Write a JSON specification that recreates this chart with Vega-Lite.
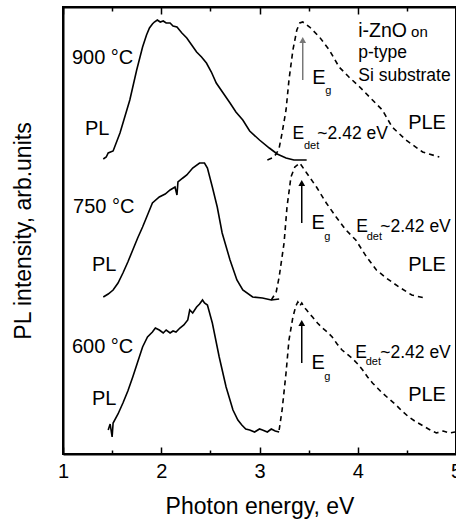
{
  "$schema": "https://vega.github.io/schema/vega-lite/v6.json",
  "width": 393,
  "height": 447,
  "autosize": {"type": "none"},
  "padding": {"left": 63, "top": 7, "right": 0, "bottom": 76},
  "background": "white",
  "config": {
    "font": "Liberation Sans",
    "view": {"stroke": "black", "strokeWidth": 2},
    "axis": {"grid": false, "domainColor": "black", "tickColor": "black", "labelColor": "black", "titleColor": "black", "titleFontWeight": "normal", "labelFont": "Liberation Sans", "titleFont": "Liberation Sans"},
    "axisLeft": {"ticks": false, "labels": false, "domain": true, "domainWidth": 2, "titleFontSize": 23, "titlePadding": 28},
    "text": {"font": "Liberation Sans", "color": "black", "align": "left", "baseline": "middle"}
  },
  "datasets": {
    "curves": [
      {"sample": "900", "type": "PL", "e": 1.41, "i": 295},
      {"sample": "900", "type": "PL", "e": 1.44, "i": 297},
      {"sample": "900", "type": "PL", "e": 1.46, "i": 301},
      {"sample": "900", "type": "PL", "e": 1.51, "i": 303},
      {"sample": "900", "type": "PL", "e": 1.58, "i": 321},
      {"sample": "900", "type": "PL", "e": 1.68, "i": 354},
      {"sample": "900", "type": "PL", "e": 1.75, "i": 384},
      {"sample": "900", "type": "PL", "e": 1.81, "i": 407},
      {"sample": "900", "type": "PL", "e": 1.85, "i": 419},
      {"sample": "900", "type": "PL", "e": 1.88, "i": 426},
      {"sample": "900", "type": "PL", "e": 1.91, "i": 430},
      {"sample": "900", "type": "PL", "e": 1.93, "i": 432},
      {"sample": "900", "type": "PL", "e": 1.96, "i": 434},
      {"sample": "900", "type": "PL", "e": 1.99, "i": 432},
      {"sample": "900", "type": "PL", "e": 2.02, "i": 433},
      {"sample": "900", "type": "PL", "e": 2.05, "i": 431},
      {"sample": "900", "type": "PL", "e": 2.09, "i": 431},
      {"sample": "900", "type": "PL", "e": 2.12, "i": 428},
      {"sample": "900", "type": "PL", "e": 2.16, "i": 427},
      {"sample": "900", "type": "PL", "e": 2.21, "i": 421},
      {"sample": "900", "type": "PL", "e": 2.26, "i": 416},
      {"sample": "900", "type": "PL", "e": 2.31, "i": 409},
      {"sample": "900", "type": "PL", "e": 2.36, "i": 402},
      {"sample": "900", "type": "PL", "e": 2.41, "i": 397},
      {"sample": "900", "type": "PL", "e": 2.46, "i": 391},
      {"sample": "900", "type": "PL", "e": 2.51, "i": 382},
      {"sample": "900", "type": "PL", "e": 2.56, "i": 371},
      {"sample": "900", "type": "PL", "e": 2.63, "i": 361},
      {"sample": "900", "type": "PL", "e": 2.70, "i": 351},
      {"sample": "900", "type": "PL", "e": 2.76, "i": 342},
      {"sample": "900", "type": "PL", "e": 2.83, "i": 334},
      {"sample": "900", "type": "PL", "e": 2.90, "i": 323},
      {"sample": "900", "type": "PL", "e": 3.00, "i": 314},
      {"sample": "900", "type": "PL", "e": 3.10, "i": 306},
      {"sample": "900", "type": "PL", "e": 3.18, "i": 300},
      {"sample": "900", "type": "PL", "e": 3.27, "i": 296},
      {"sample": "900", "type": "PL", "e": 3.35, "i": 294},
      {"sample": "900", "type": "PL", "e": 3.48, "i": 294},
      {"sample": "900", "type": "PLE", "e": 3.08, "i": 294},
      {"sample": "900", "type": "PLE", "e": 3.13, "i": 296},
      {"sample": "900", "type": "PLE", "e": 3.17, "i": 300},
      {"sample": "900", "type": "PLE", "e": 3.20, "i": 306},
      {"sample": "900", "type": "PLE", "e": 3.23, "i": 321},
      {"sample": "900", "type": "PLE", "e": 3.27, "i": 344},
      {"sample": "900", "type": "PLE", "e": 3.30, "i": 374},
      {"sample": "900", "type": "PLE", "e": 3.34, "i": 404},
      {"sample": "900", "type": "PLE", "e": 3.38, "i": 424},
      {"sample": "900", "type": "PLE", "e": 3.41, "i": 431},
      {"sample": "900", "type": "PLE", "e": 3.44, "i": 432},
      {"sample": "900", "type": "PLE", "e": 3.51, "i": 427},
      {"sample": "900", "type": "PLE", "e": 3.61, "i": 417},
      {"sample": "900", "type": "PLE", "e": 3.71, "i": 404},
      {"sample": "900", "type": "PLE", "e": 3.81, "i": 387},
      {"sample": "900", "type": "PLE", "e": 3.91, "i": 377},
      {"sample": "900", "type": "PLE", "e": 4.02, "i": 367},
      {"sample": "900", "type": "PLE", "e": 4.15, "i": 354},
      {"sample": "900", "type": "PLE", "e": 4.25, "i": 344},
      {"sample": "900", "type": "PLE", "e": 4.35, "i": 327},
      {"sample": "900", "type": "PLE", "e": 4.49, "i": 314},
      {"sample": "900", "type": "PLE", "e": 4.66, "i": 302},
      {"sample": "900", "type": "PLE", "e": 4.83, "i": 297},
      {"sample": "750", "type": "PL", "e": 1.41, "i": 157},
      {"sample": "750", "type": "PL", "e": 1.46, "i": 160},
      {"sample": "750", "type": "PL", "e": 1.51, "i": 164},
      {"sample": "750", "type": "PL", "e": 1.56, "i": 171},
      {"sample": "750", "type": "PL", "e": 1.61, "i": 181},
      {"sample": "750", "type": "PL", "e": 1.66, "i": 192},
      {"sample": "750", "type": "PL", "e": 1.71, "i": 204},
      {"sample": "750", "type": "PL", "e": 1.76, "i": 216},
      {"sample": "750", "type": "PL", "e": 1.81, "i": 227},
      {"sample": "750", "type": "PL", "e": 1.86, "i": 239},
      {"sample": "750", "type": "PL", "e": 1.91, "i": 251},
      {"sample": "750", "type": "PL", "e": 1.98, "i": 257},
      {"sample": "750", "type": "PL", "e": 2.04, "i": 260},
      {"sample": "750", "type": "PL", "e": 2.09, "i": 264},
      {"sample": "750", "type": "PL", "e": 2.14, "i": 267},
      {"sample": "750", "type": "PL", "e": 2.16, "i": 259},
      {"sample": "750", "type": "PL", "e": 2.17, "i": 272},
      {"sample": "750", "type": "PL", "e": 2.22, "i": 276},
      {"sample": "750", "type": "PL", "e": 2.26, "i": 279},
      {"sample": "750", "type": "PL", "e": 2.32, "i": 286},
      {"sample": "750", "type": "PL", "e": 2.39, "i": 291},
      {"sample": "750", "type": "PL", "e": 2.44, "i": 291},
      {"sample": "750", "type": "PL", "e": 2.47, "i": 286},
      {"sample": "750", "type": "PL", "e": 2.52, "i": 267},
      {"sample": "750", "type": "PL", "e": 2.57, "i": 247},
      {"sample": "750", "type": "PL", "e": 2.62, "i": 221},
      {"sample": "750", "type": "PL", "e": 2.70, "i": 194},
      {"sample": "750", "type": "PL", "e": 2.77, "i": 174},
      {"sample": "750", "type": "PL", "e": 2.83, "i": 164},
      {"sample": "750", "type": "PL", "e": 2.93, "i": 157},
      {"sample": "750", "type": "PL", "e": 3.03, "i": 156},
      {"sample": "750", "type": "PL", "e": 3.12, "i": 154},
      {"sample": "750", "type": "PL", "e": 3.20, "i": 155},
      {"sample": "750", "type": "PLE", "e": 3.12, "i": 154},
      {"sample": "750", "type": "PLE", "e": 3.17, "i": 162},
      {"sample": "750", "type": "PLE", "e": 3.20, "i": 177},
      {"sample": "750", "type": "PLE", "e": 3.25, "i": 211},
      {"sample": "750", "type": "PLE", "e": 3.28, "i": 247},
      {"sample": "750", "type": "PLE", "e": 3.32, "i": 277},
      {"sample": "750", "type": "PLE", "e": 3.36, "i": 287},
      {"sample": "750", "type": "PLE", "e": 3.41, "i": 291},
      {"sample": "750", "type": "PLE", "e": 3.48, "i": 281},
      {"sample": "750", "type": "PLE", "e": 3.58, "i": 267},
      {"sample": "750", "type": "PLE", "e": 3.68, "i": 251},
      {"sample": "750", "type": "PLE", "e": 3.78, "i": 237},
      {"sample": "750", "type": "PLE", "e": 3.88, "i": 224},
      {"sample": "750", "type": "PLE", "e": 3.98, "i": 214},
      {"sample": "750", "type": "PLE", "e": 4.09, "i": 197},
      {"sample": "750", "type": "PLE", "e": 4.19, "i": 184},
      {"sample": "750", "type": "PLE", "e": 4.29, "i": 176},
      {"sample": "750", "type": "PLE", "e": 4.42, "i": 167},
      {"sample": "750", "type": "PLE", "e": 4.55, "i": 159},
      {"sample": "750", "type": "PLE", "e": 4.68, "i": 156},
      {"sample": "600", "type": "PL", "e": 1.46, "i": 24},
      {"sample": "600", "type": "PL", "e": 1.48, "i": 30},
      {"sample": "600", "type": "PL", "e": 1.50, "i": 17},
      {"sample": "600", "type": "PL", "e": 1.51, "i": 31},
      {"sample": "600", "type": "PL", "e": 1.56, "i": 40},
      {"sample": "600", "type": "PL", "e": 1.61, "i": 51},
      {"sample": "600", "type": "PL", "e": 1.66, "i": 63},
      {"sample": "600", "type": "PL", "e": 1.71, "i": 77},
      {"sample": "600", "type": "PL", "e": 1.76, "i": 92},
      {"sample": "600", "type": "PL", "e": 1.81, "i": 107},
      {"sample": "600", "type": "PL", "e": 1.86, "i": 117},
      {"sample": "600", "type": "PL", "e": 1.91, "i": 122},
      {"sample": "600", "type": "PL", "e": 1.94, "i": 126},
      {"sample": "600", "type": "PL", "e": 1.98, "i": 124},
      {"sample": "600", "type": "PL", "e": 2.02, "i": 121},
      {"sample": "600", "type": "PL", "e": 2.05, "i": 124},
      {"sample": "600", "type": "PL", "e": 2.09, "i": 121},
      {"sample": "600", "type": "PL", "e": 2.12, "i": 123},
      {"sample": "600", "type": "PL", "e": 2.15, "i": 122},
      {"sample": "600", "type": "PL", "e": 2.19, "i": 126},
      {"sample": "600", "type": "PL", "e": 2.23, "i": 129},
      {"sample": "600", "type": "PL", "e": 2.27, "i": 134},
      {"sample": "600", "type": "PL", "e": 2.29, "i": 144},
      {"sample": "600", "type": "PL", "e": 2.32, "i": 141},
      {"sample": "600", "type": "PL", "e": 2.36, "i": 147},
      {"sample": "600", "type": "PL", "e": 2.39, "i": 150},
      {"sample": "600", "type": "PL", "e": 2.42, "i": 154},
      {"sample": "600", "type": "PL", "e": 2.44, "i": 151},
      {"sample": "600", "type": "PL", "e": 2.47, "i": 149},
      {"sample": "600", "type": "PL", "e": 2.52, "i": 131},
      {"sample": "600", "type": "PL", "e": 2.59, "i": 97},
      {"sample": "600", "type": "PL", "e": 2.66, "i": 67},
      {"sample": "600", "type": "PL", "e": 2.73, "i": 44},
      {"sample": "600", "type": "PL", "e": 2.78, "i": 34},
      {"sample": "600", "type": "PL", "e": 2.82, "i": 29},
      {"sample": "600", "type": "PL", "e": 2.86, "i": 25},
      {"sample": "600", "type": "PL", "e": 2.90, "i": 24},
      {"sample": "600", "type": "PL", "e": 2.95, "i": 22},
      {"sample": "600", "type": "PL", "e": 3.00, "i": 25},
      {"sample": "600", "type": "PL", "e": 3.03, "i": 24},
      {"sample": "600", "type": "PL", "e": 3.08, "i": 22},
      {"sample": "600", "type": "PL", "e": 3.12, "i": 25},
      {"sample": "600", "type": "PL", "e": 3.16, "i": 23},
      {"sample": "600", "type": "PL", "e": 3.20, "i": 22},
      {"sample": "600", "type": "PLE", "e": 3.20, "i": 24},
      {"sample": "600", "type": "PLE", "e": 3.23, "i": 44},
      {"sample": "600", "type": "PLE", "e": 3.27, "i": 81},
      {"sample": "600", "type": "PLE", "e": 3.30, "i": 114},
      {"sample": "600", "type": "PLE", "e": 3.34, "i": 137},
      {"sample": "600", "type": "PLE", "e": 3.37, "i": 148},
      {"sample": "600", "type": "PLE", "e": 3.39, "i": 152},
      {"sample": "600", "type": "PLE", "e": 3.41, "i": 148},
      {"sample": "600", "type": "PLE", "e": 3.43, "i": 151},
      {"sample": "600", "type": "PLE", "e": 3.46, "i": 146},
      {"sample": "600", "type": "PLE", "e": 3.48, "i": 144},
      {"sample": "600", "type": "PLE", "e": 3.51, "i": 140},
      {"sample": "600", "type": "PLE", "e": 3.54, "i": 137},
      {"sample": "600", "type": "PLE", "e": 3.59, "i": 131},
      {"sample": "600", "type": "PLE", "e": 3.64, "i": 126},
      {"sample": "600", "type": "PLE", "e": 3.69, "i": 122},
      {"sample": "600", "type": "PLE", "e": 3.74, "i": 117},
      {"sample": "600", "type": "PLE", "e": 3.79, "i": 110},
      {"sample": "600", "type": "PLE", "e": 3.84, "i": 104},
      {"sample": "600", "type": "PLE", "e": 3.89, "i": 100},
      {"sample": "600", "type": "PLE", "e": 3.94, "i": 96},
      {"sample": "600", "type": "PLE", "e": 4.00, "i": 90},
      {"sample": "600", "type": "PLE", "e": 4.05, "i": 84},
      {"sample": "600", "type": "PLE", "e": 4.10, "i": 77},
      {"sample": "600", "type": "PLE", "e": 4.15, "i": 71},
      {"sample": "600", "type": "PLE", "e": 4.20, "i": 66},
      {"sample": "600", "type": "PLE", "e": 4.25, "i": 61},
      {"sample": "600", "type": "PLE", "e": 4.32, "i": 55},
      {"sample": "600", "type": "PLE", "e": 4.39, "i": 49},
      {"sample": "600", "type": "PLE", "e": 4.45, "i": 43},
      {"sample": "600", "type": "PLE", "e": 4.52, "i": 37},
      {"sample": "600", "type": "PLE", "e": 4.58, "i": 33},
      {"sample": "600", "type": "PLE", "e": 4.65, "i": 29},
      {"sample": "600", "type": "PLE", "e": 4.72, "i": 25},
      {"sample": "600", "type": "PLE", "e": 4.80, "i": 21},
      {"sample": "600", "type": "PLE", "e": 4.87, "i": 23},
      {"sample": "600", "type": "PLE", "e": 4.93, "i": 21},
      {"sample": "600", "type": "PLE", "e": 4.99, "i": 22}
    ],
    "arrows": [
      {"sample": "900", "e": 3.44, "base": 374, "tip": 414},
      {"sample": "750", "e": 3.43, "base": 231, "tip": 271},
      {"sample": "600", "e": 3.43, "base": 91, "tip": 131}
    ],
    "labels": [
      {"role": "label", "e": 1.091, "i": 396, "text": "900 °C"},
      {"role": "label", "e": 1.223, "i": 325, "text": "PL"},
      {"role": "label", "e": 1.102, "i": 247, "text": "750 °C"},
      {"role": "label", "e": 1.294, "i": 189, "text": "PL"},
      {"role": "label", "e": 1.091, "i": 107, "text": "600 °C"},
      {"role": "label", "e": 1.294, "i": 55, "text": "PL"},
      {"role": "label", "e": 4.513, "i": 331, "text": "PLE"},
      {"role": "label", "e": 4.513, "i": 189, "text": "PLE"},
      {"role": "label", "e": 4.513, "i": 59, "text": "PLE"},
      {"role": "eg", "e": 3.538, "i": 376, "text": "E"},
      {"role": "eg", "e": 3.528, "i": 231, "text": "E"},
      {"role": "eg", "e": 3.528, "i": 91, "text": "E"},
      {"role": "sub", "e": 3.670, "i": 363, "text": "g"},
      {"role": "sub", "e": 3.660, "i": 217, "text": "g"},
      {"role": "sub", "e": 3.660, "i": 77, "text": "g"},
      {"role": "det", "e": 3.335, "i": 320, "text": "E"},
      {"role": "det", "e": 3.589, "i": 320, "text": "~2.42 eV"},
      {"role": "det", "e": 3.985, "i": 227, "text": "E"},
      {"role": "det", "e": 4.229, "i": 227, "text": "~2.42 eV"},
      {"role": "det", "e": 3.975, "i": 101, "text": "E"},
      {"role": "det", "e": 4.229, "i": 101, "text": "~2.42 eV"},
      {"role": "sub", "e": 3.452, "i": 308, "text": "det"},
      {"role": "sub", "e": 4.091, "i": 217, "text": "det"},
      {"role": "sub", "e": 4.081, "i": 92, "text": "det"},
      {"role": "boxbig", "e": 4.005, "i": 417, "text": "i-ZnO"},
      {"role": "boxsmall", "e": 4.543, "i": 417, "text": "on"},
      {"role": "box", "e": 4.005, "i": 396, "text": "p-type"},
      {"role": "box", "e": 4.005, "i": 373, "text": "Si substrate"}
    ]
  },
  "resolve": {"axis": {"x": "independent", "y": "shared"}},
  "layer": [
    {
      "data": {"name": "curves"},
      "transform": [{"filter": "datum.type === 'PL'"}],
      "mark": {"type": "line", "color": "black", "strokeWidth": 1.6},
      "encoding": {
        "x": {"field": "e", "type": "quantitative", "scale": {"domain": [1, 5], "nice": false},
          "axis": {"orient": "bottom", "values": [1, 2, 3, 4, 5], "format": "d", "tickSize": -7, "tickWidth": 1.5, "domainWidth": 2, "labelFontSize": 20, "labelPadding": 14, "labelFlush": false, "title": "Photon energy, eV", "titleFontSize": 23, "titlePadding": 14}},
        "y": {"field": "i", "type": "quantitative", "scale": {"domain": [0, 447], "nice": false, "zero": false},
          "axis": {"orient": "left", "title": "PL intensity, arb.units"}},
        "detail": {"field": "sample", "type": "nominal"}
      }
    },
    {
      "data": {"name": "curves"},
      "transform": [{"filter": "datum.type === 'PLE'"}],
      "mark": {"type": "line", "color": "black", "strokeWidth": 1.6, "strokeDash": [5, 4]},
      "encoding": {
        "x": {"field": "e", "type": "quantitative",
          "axis": {"orient": "bottom", "values": [1.5, 2.5, 3.5, 4.5], "tickSize": -4, "tickWidth": 1.5, "domain": false, "labels": false, "title": null}},
        "y": {"field": "i", "type": "quantitative", "axis": {"orient": "left", "title": "PL intensity, arb.units"}},
        "detail": {"field": "sample", "type": "nominal"}
      }
    },
    {
      "data": {"name": "arrows"},
      "mark": {"type": "rule", "strokeWidth": 1.5},
      "encoding": {
        "x": {"field": "e", "type": "quantitative",
          "axis": {"orient": "top", "values": [1, 2, 3, 4, 5], "tickSize": -7, "tickWidth": 1.5, "domainWidth": 2, "labels": false, "title": null}},
        "y": {"field": "base", "type": "quantitative", "axis": {"orient": "left", "title": "PL intensity, arb.units"}},
        "y2": {"field": "tip"},
        "color": {"condition": {"test": "datum.sample === '900'", "value": "#777777"}, "value": "black"}
      }
    },
    {
      "data": {"name": "arrows"},
      "mark": {"type": "point", "shape": "triangle-up", "filled": true, "size": 45, "opacity": 1},
      "encoding": {
        "x": {"field": "e", "type": "quantitative",
          "axis": {"orient": "top", "values": [1.5, 2.5, 3.5, 4.5], "tickSize": -4, "tickWidth": 1.5, "domain": false, "labels": false, "title": null}},
        "y": {"field": "tip", "type": "quantitative", "axis": {"orient": "left", "title": "PL intensity, arb.units"}},
        "color": {"condition": {"test": "datum.sample === '900'", "value": "#777777"}, "value": "black"}
      }
    },
    {
      "data": {"name": "labels"},
      "transform": [{"filter": "datum.role === 'label'"}],
      "mark": {"type": "text", "fontSize": 20},
      "encoding": {
        "x": {"field": "e", "type": "quantitative", "axis": null},
        "y": {"field": "i", "type": "quantitative", "axis": {"orient": "left", "title": "PL intensity, arb.units"}},
        "text": {"field": "text"}
      }
    },
    {
      "data": {"name": "labels"},
      "transform": [{"filter": "datum.role === 'eg'"}],
      "mark": {"type": "text", "fontSize": 20},
      "encoding": {
        "x": {"field": "e", "type": "quantitative", "axis": null},
        "y": {"field": "i", "type": "quantitative", "axis": {"orient": "left", "title": "PL intensity, arb.units"}},
        "text": {"field": "text"}
      }
    },
    {
      "data": {"name": "labels"},
      "transform": [{"filter": "datum.role === 'det'"}],
      "mark": {"type": "text", "fontSize": 17.5},
      "encoding": {
        "x": {"field": "e", "type": "quantitative", "axis": null},
        "y": {"field": "i", "type": "quantitative", "axis": {"orient": "left", "title": "PL intensity, arb.units"}},
        "text": {"field": "text"}
      }
    },
    {
      "data": {"name": "labels"},
      "transform": [{"filter": "datum.role === 'sub'"}],
      "mark": {"type": "text", "fontSize": 11},
      "encoding": {
        "x": {"field": "e", "type": "quantitative", "axis": null},
        "y": {"field": "i", "type": "quantitative", "axis": {"orient": "left", "title": "PL intensity, arb.units"}},
        "text": {"field": "text"}
      }
    },
    {
      "data": {"name": "labels"},
      "transform": [{"filter": "datum.role === 'boxbig'"}],
      "mark": {"type": "text", "fontSize": 19.5, "baseline": "alphabetic"},
      "encoding": {
        "x": {"field": "e", "type": "quantitative", "axis": null},
        "y": {"field": "i", "type": "quantitative", "axis": {"orient": "left", "title": "PL intensity, arb.units"}},
        "text": {"field": "text"}
      }
    },
    {
      "data": {"name": "labels"},
      "transform": [{"filter": "datum.role === 'boxsmall'"}],
      "mark": {"type": "text", "fontSize": 15, "baseline": "alphabetic"},
      "encoding": {
        "x": {"field": "e", "type": "quantitative", "axis": null},
        "y": {"field": "i", "type": "quantitative", "axis": {"orient": "left", "title": "PL intensity, arb.units"}},
        "text": {"field": "text"}
      }
    },
    {
      "data": {"name": "labels"},
      "transform": [{"filter": "datum.role === 'box'"}],
      "mark": {"type": "text", "fontSize": 17.5, "baseline": "alphabetic"},
      "encoding": {
        "x": {"field": "e", "type": "quantitative", "axis": null},
        "y": {"field": "i", "type": "quantitative", "axis": {"orient": "left", "title": "PL intensity, arb.units"}},
        "text": {"field": "text"}
      }
    }
  ]
}
